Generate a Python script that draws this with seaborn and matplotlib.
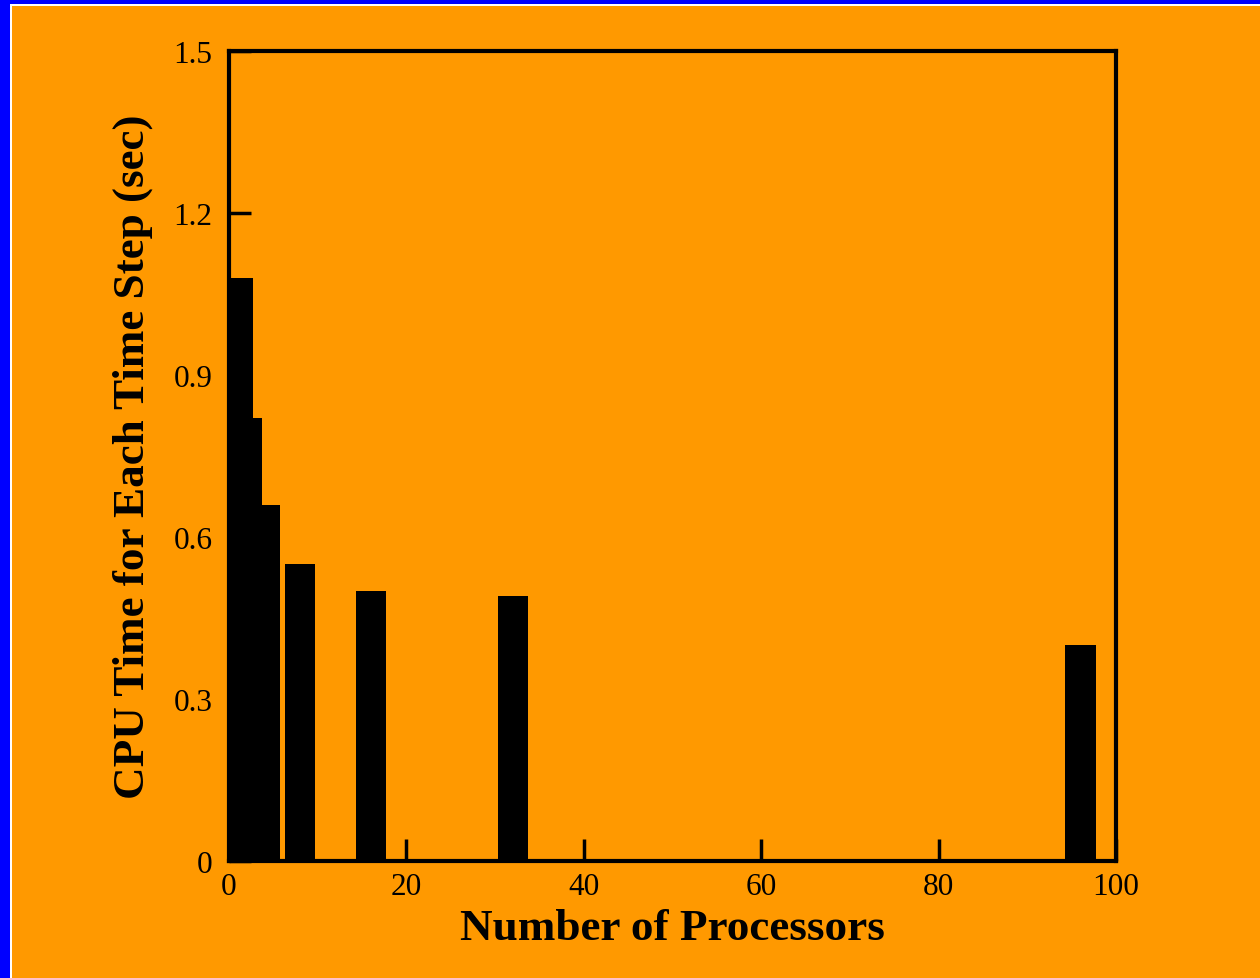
import matplotlib
matplotlib.use("Agg")
import matplotlib.pyplot as plt
from matplotlib.patches import Rectangle
import seaborn as sns
import pandas as pd

processors = [1, 2, 4, 8, 16, 32, 96]
cpu_time = [1.08, 0.82, 0.66, 0.55, 0.50, 0.49, 0.40]
x_ticks = [0, 20, 40, 60, 80, 100]
x_tick_labels = ["0", "20", "40", "60", "80", "100"]
y_ticks = [0, 0.3, 0.6, 0.9, 1.2, 1.5]
y_tick_labels = ["0", "0.3", "0.6", "0.9", "1.2", "1.5"]

ORANGE = "#FF9900"
BLUE = "#0000FF"

sns.set_theme(style="white")
plt.rcParams['font.family'] = ['Liberation Serif', 'DejaVu Serif']

W, H = 1260, 979
fig = plt.figure(figsize=(W / 100, H / 100), dpi=100, facecolor=ORANGE)
ax = fig.add_axes([229 / W, 1 - 862 / H, (1116 - 229) / W, (862 - 52) / H])
ax.set_facecolor(ORANGE)

df = pd.DataFrame({"procs": processors, "time": cpu_time})
sns.barplot(data=df, x="procs", y="time", native_scale=True, width=3.4,
            color="black", saturation=1, errorbar=None, linewidth=0, ax=ax)

ax.set_xlim(0, 100)
ax.set_ylim(0, 1.5)
ax.set_xticks(x_ticks)
ax.set_xticklabels(x_tick_labels)
ax.set_yticks(y_ticks)
ax.set_yticklabels(y_tick_labels)

for s in ax.spines.values():
    s.set_visible(True)
    s.set_color("black")
    s.set_linewidth(3)

ax.tick_params(axis="both", direction="in", length=16, width=2.5, color="black",
               labelsize=22.5, labelcolor="black", bottom=True, left=True,
               top=False, right=False)
ax.tick_params(axis="x", pad=8)
ax.tick_params(axis="y", pad=12)

ax.set_xlabel("Number of Processors", fontsize=32.5, fontweight="bold", color="black",
              va="center")
ax.set_ylabel("CPU Time for Each Time Step (sec)", fontsize=32.5, fontweight="bold",
              color="black", va="center")
ax.xaxis.set_label_coords(0.5, (862 - 929) / (862 - 52))
ax.yaxis.set_label_coords((133 - 229) / (1116 - 229), 0.5)

# Blue frame with thin white inner line (left and top)
fig.patches.append(Rectangle((0, 0), 10 / W, 1, transform=fig.transFigure,
                             facecolor=BLUE, edgecolor="none", zorder=-1))
fig.patches.append(Rectangle((0, 1 - 5 / H), 1, 5 / H, transform=fig.transFigure,
                             facecolor=BLUE, edgecolor="none", zorder=-1))
fig.patches.append(Rectangle((10 / W, 0), 2 / W, 1 - 5 / H, transform=fig.transFigure,
                             facecolor="white", edgecolor="none", zorder=-1))
fig.patches.append(Rectangle((10 / W, 1 - 7 / H), 1 - 10 / W, 2 / H, transform=fig.transFigure,
                             facecolor="white", edgecolor="none", zorder=-1))

fig.savefig("out.png", dpi=100, facecolor=ORANGE)
